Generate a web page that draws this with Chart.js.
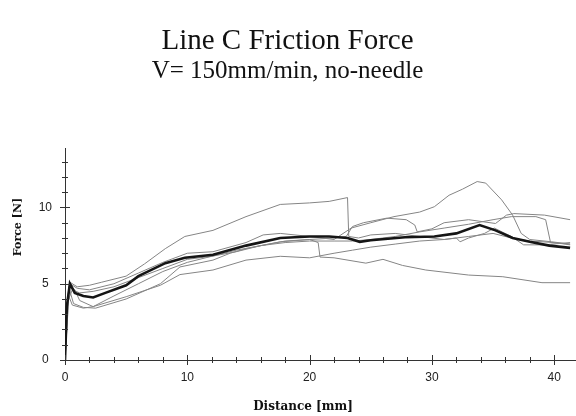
<!DOCTYPE html>
<html>
<head>
<meta charset="utf-8">
<script src="https://cdn.jsdelivr.net/npm/chart.js@4"></script>
<style>
  html, body { margin: 0; padding: 0; background: #fff; }
</style>
</head>
<body>
<canvas id="forceChart" width="576" height="416"></canvas>
<script>
// tick labels
var xLabels = [0, 10, 20, 30, 40];
var yLabels = [0, 5, 10];

// mean curve (thick)
var meanX = [0, 0.15, 0.4, 0.8, 1.5, 2.3, 3.3, 5, 6, 8.2, 9.8, 12.1, 14.8, 17.6, 20, 21.6, 23.1, 24.1, 25, 27.8, 30.2, 32, 33.9, 35.2, 36.6, 38, 39.6, 41.3];
var meanY = [0, 3.5, 5.0, 4.4, 4.2, 4.1, 4.4, 4.9, 5.5, 6.35, 6.7, 6.9, 7.5, 8.0, 8.1, 8.1, 8.0, 7.75, 7.85, 8.05, 8.1, 8.3, 8.85, 8.5, 8.0, 7.75, 7.5, 7.35];

// single runs (thin)
var run1X = [0, 0.2, 0.4, 1, 2, 3, 5, 6.5, 8.2, 9.8, 12.1, 14.8, 17.6, 20, 21.6, 23.1, 23.2, 24, 25, 27, 29, 31, 32, 32.3, 33, 34.3, 35.1, 36.5, 37.5, 39.2, 41.3];
var run1Y = [0, 4.0, 5.1, 4.8, 4.9, 5.1, 5.5, 6.3, 7.3, 8.1, 8.5, 9.4, 10.2, 10.3, 10.4, 10.65, 8.1, 8.0, 8.2, 8.3, 8.1, 7.9, 8.0, 7.75, 8.0, 8.3, 8.65, 8.1, 7.55, 7.55, 7.7];

var run2X = [0, 0.2, 0.4, 1, 2, 4, 6, 8, 10, 12.1, 14.8, 16.2, 17.6, 20, 22, 23.4, 25, 26.9, 29, 30.2, 31.4, 32.5, 33.7, 34.4, 35.7, 36.6, 37.3, 38, 39.8, 41.3];
var run2Y = [0, 3.5, 5.0, 4.7, 4.6, 5.0, 5.7, 6.4, 7.0, 7.1, 7.7, 8.2, 8.3, 8.1, 7.9, 8.65, 9.0, 9.4, 9.7, 10.05, 10.8, 11.2, 11.7, 11.6, 10.5, 9.5, 8.3, 7.9, 7.75, 7.6];

var run3X = [0, 0.3, 0.6, 1.2, 2.3, 4, 6, 8, 10, 12, 14, 16, 18, 20, 22, 23, 23.5, 24.4, 26.3, 27.9, 28.6, 28.8, 30, 31, 33, 35.2, 36.1, 36.7, 39.2, 41.3];
var run3Y = [0, 4.0, 4.6, 4.4, 4.5, 4.8, 5.4, 6.0, 6.6, 6.8, 7.1, 7.5, 7.8, 7.9, 8.0, 8.1, 8.75, 9.0, 9.3, 9.2, 8.85, 8.4, 8.6, 9.0, 9.2, 8.95, 9.5, 9.6, 9.5, 9.2];

var run4X = [0, 0.2, 0.4, 0.8, 1.2, 2.3, 4, 6, 8, 10, 12, 14, 16, 18, 20, 22, 23.5, 25, 27, 29, 31, 33, 35, 36.5, 38.5, 39.3, 39.7, 41.3];
var run4Y = [0, 3.8, 4.9, 4.6, 3.9, 3.5, 4.2, 5.0, 5.8, 6.4, 6.8, 7.2, 7.5, 7.7, 7.8, 7.8, 7.8, 7.9, 8.1, 8.4, 8.65, 8.9, 9.2, 9.4, 9.4, 9.2, 7.7, 7.6];

var run5X = [0, 0.3, 0.6, 1.5, 2.3, 5, 7.8, 9.4, 12.1, 14.8, 17.6, 20, 22, 23.5, 25, 27, 29, 31, 33, 35, 36.5, 38, 40, 41.3];
var run5Y = [0, 4.2, 3.6, 3.4, 3.5, 4.15, 4.9, 5.6, 5.9, 6.55, 6.8, 6.7, 7.0, 7.2, 7.4, 7.6, 7.8, 7.9, 8.1, 8.3, 8.0, 7.8, 7.7, 7.55];

var run6X = [0, 0.3, 0.7, 1.5, 2.5, 5, 7.8, 9.4, 12.1, 13.5, 14.8, 17.6, 20, 20.7, 20.85, 22, 24.6, 26, 27.6, 29.5, 33, 35.8, 39, 41.3];
var run6Y = [0, 4.8, 3.7, 3.45, 3.4, 4.0, 5.0, 6.1, 6.55, 7.0, 7.3, 7.75, 7.9, 7.7, 6.75, 6.7, 6.35, 6.6, 6.2, 5.9, 5.57, 5.46, 5.07, 5.07];

function pts(xs, ys) {
    return xs.map(function (x, i) { return { x: x, y: ys[i] }; });
}

function run(xs, ys) {
    return {
        data: pts(xs, ys),
        borderColor: '#858585',
        borderWidth: 1,
        pointRadius: 0,
        tension: 0
    };
}

// small ticks crossing both axes, plus the axis titles
var axisExtras = {
    id: 'axisExtras',
    afterDraw: function (chart) {
        var c = chart.ctx;
        var xs = chart.scales.x;
        var ys = chart.scales.y;
        c.save();
        c.strokeStyle = '#333';
        c.lineWidth = 1;
        c.beginPath();
        for (var v = 0; v <= 40; v += 2) {
            var px = Math.round(xs.getPixelForValue(v)) + 0.5;
            var l = v % 10 === 0 ? 5 : 3;
            c.moveTo(px, ys.bottom - l);
            c.lineTo(px, ys.bottom + l);
        }
        for (var w = 0; w <= 13; w += 1) {
            var py = Math.round(ys.getPixelForValue(w)) + 0.5;
            var m = w % 5 === 0 ? 5 : 3;
            c.moveTo(xs.left - m, py);
            c.lineTo(xs.left + m, py);
        }
        c.stroke();

        c.fillStyle = '#111';
        c.font = 'bold 12px "DejaVu Serif", serif';
        c.textAlign = 'center';
        c.textBaseline = 'middle';
        c.fillText('Distance [mm]', 303, 407);
        c.translate(18, 227);
        c.rotate(-Math.PI / 2);
        c.font = 'bold 11px "DejaVu Serif", serif';
        c.fillText('Force [N]', 0, 0);
        c.restore();
    }
};

var ctx = document.getElementById('forceChart').getContext('2d');

var chart = new Chart(ctx, {
    type: 'line',

    data: {
        datasets: [
            {
                data: pts(meanX, meanY),
                borderColor: '#151515',
                borderWidth: 2.6,
                pointRadius: 0,
                tension: 0
            },
            run(run1X, run1Y),
            run(run2X, run2Y),
            run(run3X, run3Y),
            run(run4X, run4Y),
            run(run5X, run5Y),
            run(run6X, run6Y)
        ]
    },

    options: {
        responsive: false,
        animation: false,
        layout: { autoPadding: false, padding: { top: 0, right: 1, bottom: 0, left: 0 } },
        plugins: {
            legend: { display: false },
            tooltip: { enabled: false },
            title: {
                display: true,
                text: 'Line C Friction Force',
                color: '#111',
                font: { family: '"Liberation Serif", "Times New Roman", serif', size: 29, weight: 'normal', lineHeight: 1 },
                padding: { top: 26.5, bottom: 0 }
            },
            subtitle: {
                display: true,
                text: 'V= 150mm/min, no-needle',
                color: '#111',
                font: { family: '"Liberation Serif", "Times New Roman", serif', size: 25, weight: 'normal', lineHeight: 1 },
                padding: { top: 3, bottom: 64.5 }
            }
        },
        scales: {
            x: {
                type: 'linear',
                min: 0,
                max: 41.7,
                grid: { display: false, drawTicks: false },
                border: { display: true, color: '#333', width: 1 },
                ticks: {
                    stepSize: 2,
                    includeBounds: false,
                    autoSkip: false,
                    maxRotation: 0,
                    padding: 10,
                    color: '#222',
                    font: { family: '"Liberation Sans", Arial, sans-serif', size: 12 },
                    callback: function (v) { return xLabels.indexOf(v) >= 0 ? v : ''; }
                },
                afterFit: function (s) { s.height = 56; }
            },
            y: {
                min: 0,
                max: 13.9,
                grid: { display: false, drawTicks: false },
                border: { display: true, color: '#333', width: 1 },
                ticks: {
                    stepSize: 1,
                    includeBounds: false,
                    autoSkip: false,
                    padding: 13,
                    crossAlign: 'center',
                    color: '#222',
                    font: { family: '"Liberation Sans", Arial, sans-serif', size: 12 },
                    callback: function (v) { return yLabels.indexOf(v) >= 0 ? v : ''; }
                },
                afterFit: function (s) { s.width = 65; }
            }
        }
    },

    plugins: [axisExtras]
});
</script>
</body>
</html>
